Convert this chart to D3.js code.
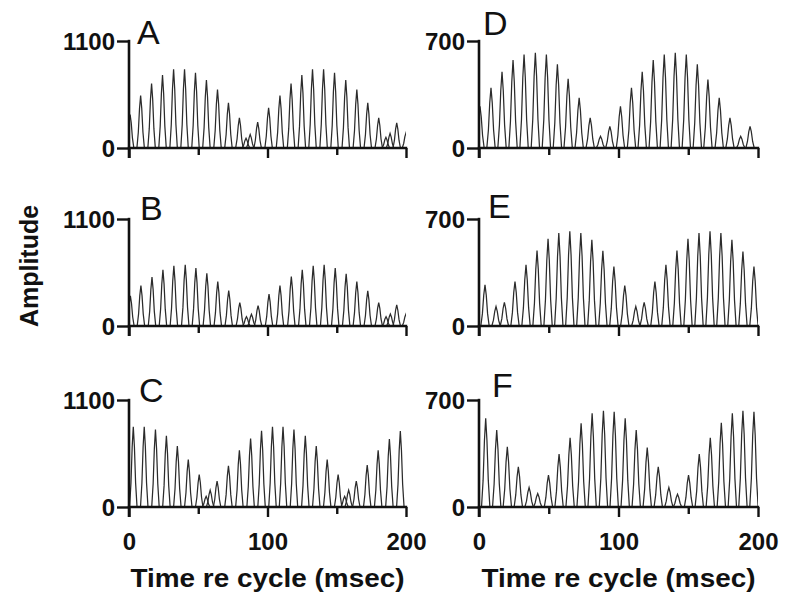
<!DOCTYPE html>
<html>
<head>
<meta charset="utf-8">
<script src="https://cdn.jsdelivr.net/npm/d3@7"></script>
<style>
  html, body { margin: 0; padding: 0; background: #fff; }
  svg { display: block; }
  text { font-family: "Liberation Sans", Arial, Helvetica, sans-serif; fill: #111; }
</style>
</head>
<body>
<svg id="chart" width="785" height="600"></svg>
<script>
// ---- Data ----
const panelLabels = ["A", "B", "C", "D", "E", "F"];
const yMaxLeft = 1100;
const yMaxRight = 700;
const xTickValues = [0, 50, 100, 150, 200];
const xTickLabels = ["0", "", "100", "", "200"];
const xTitle = "Time re cycle (msec)";
const yTitle = "Amplitude";

const timesA = [0.8, 8.4, 16.3, 24.2, 32.2, 40.1, 48, 55.9, 63.9, 71.8, 79.7, 84.5, 87.5, 92.9, 100.8, 109, 117, 124.8, 132.5, 140.5, 148.4, 156.5, 164.5, 172.4, 180.3, 185.5, 188.5, 193.3, 200];
const ampsA  = [344, 540, 663, 749, 808, 808, 773, 698, 602, 464, 309, 100, 140, 265, 412, 540, 663, 749, 808, 808, 773, 698, 602, 464, 309, 110, 150, 258, 155];

const timesB = [1, 8.6, 16.6, 24.5, 32.4, 40.6, 48.3, 56.2, 64.1, 72, 80, 84.8, 88.4, 93.2, 101.1, 109, 117.2, 125.1, 133, 140.9, 148.9, 156.8, 164.5, 172.4, 180.3, 185.6, 188.7, 193.3, 200];
const ampsB  = [309, 416, 502, 577, 619, 629, 595, 543, 457, 364, 241, 96, 120, 210, 327, 416, 509, 577, 619, 629, 595, 536, 457, 361, 241, 96, 124, 216, 124];

const timesC = [3.1, 11, 19.1, 27, 34.9, 42.8, 50.7, 55.7, 58.6, 63.6, 71.8, 79.7, 87.8, 95.7, 103.6, 111.2, 119.1, 127.3, 135.2, 143.1, 151, 155.7, 158.6, 164.1, 172, 179.9, 188, 195.9];
const ampsC  = [825, 825, 797, 732, 626, 488, 333, 110, 172, 265, 423, 584, 705, 784, 825, 825, 797, 732, 626, 488, 333, 110, 172, 265, 430, 584, 698, 780];

const timesD = [0.7, 8.6, 16.5, 24.4, 32.3, 40.4, 48.3, 56.2, 63.9, 71.8, 79.7, 87.1, 93.8, 101.4, 109.3, 117, 124.9, 132.8, 140.7, 148.6, 156.5, 164.1, 172.2, 179.9, 187.6, 194.3];
const ampsD  = [273, 394, 499, 575, 612, 623, 612, 547, 453, 328, 197, 77, 142, 273, 394, 499, 575, 612, 623, 612, 547, 448, 328, 197, 77, 142];

const timesE = [4.3, 12.2, 18.2, 25.8, 33.7, 41.6, 49.5, 57.2, 65.1, 73, 80.9, 88.8, 96.7, 104.5, 112.4, 118.4, 126.1, 134, 141.9, 149.8, 157.7, 165.6, 173.4, 181.3, 189.2, 197.1];
const ampsE  = [269, 127, 155, 291, 400, 494, 571, 608, 619, 608, 564, 492, 389, 265, 127, 155, 291, 400, 494, 571, 608, 619, 608, 564, 487, 389];

const timesF = [4.8, 12.7, 20.3, 28.2, 35.9, 42.1, 49.8, 57.4, 65.3, 73.2, 81.1, 89.2, 96.9, 104.8, 112.7, 120.6, 128.5, 136.1, 142.3, 150.2, 157.9, 165.8, 173.7, 181.6, 189.2, 197.1];
const ampsF  = [580, 503, 394, 263, 127, 88, 208, 346, 453, 547, 613, 630, 623, 580, 503, 389, 263, 127, 83, 208, 346, 453, 551, 613, 630, 623];

// ---- Layout ----
const colX = [{x0: 129, x1: 406}, {x0: 479, x1: 758}];
const rowY = [{y0: 41, y1: 148}, {y0: 219, y1: 326}, {y0: 400, y1: 507}];
const letterPos = [
  {dx: 8, dy: 3}, {dx: 11, dy: 1}, {dx: 10, dy: 2},
  {dx: 4, dy: -6}, {dx: 9, dy: -1}, {dx: 13, dy: -3}
];

const panels = [
  {label: panelLabels[0], col: 0, row: 0, times: timesA, amps: ampsA, yMax: yMaxLeft, hw: 2.7},
  {label: panelLabels[1], col: 0, row: 1, times: timesB, amps: ampsB, yMax: yMaxLeft, hw: 2.7},
  {label: panelLabels[2], col: 0, row: 2, times: timesC, amps: ampsC, yMax: yMaxLeft, hw: 2.7},
  {label: panelLabels[3], col: 1, row: 0, times: timesD, amps: ampsD, yMax: yMaxRight, hw: 3.0},
  {label: panelLabels[4], col: 1, row: 1, times: timesE, amps: ampsE, yMax: yMaxRight, hw: 3.0},
  {label: panelLabels[5], col: 1, row: 2, times: timesF, amps: ampsF, yMax: yMaxRight, hw: 3.0}
];

// peak shape template (offset fraction of half-width, fraction of amplitude)
const kernel = [[-1, 0], [-0.62, 0.3], [-0.3, 0.75], [0, 1], [0.3, 0.75], [0.62, 0.3], [1, 0]];

const svg = d3.select("#chart");
const AX = "#111";

panels.forEach((p, i) => {
  const cx = colX[p.col], ry = rowY[p.row];
  const x = d3.scaleLinear().domain([0, 200]).range([cx.x0, cx.x1]);
  const y = d3.scaleLinear().domain([0, p.yMax]).range([ry.y1, ry.y0]);
  const g = svg.append("g");

  const clipId = "clip" + i;
  svg.append("clipPath").attr("id", clipId)
    .append("rect").attr("x", cx.x0).attr("y", ry.y0 - 20)
    .attr("width", cx.x1 - cx.x0).attr("height", ry.y1 - ry.y0 + 20);

  const line = d3.line().x(d => x(d[0])).y(d => y(d[1]));
  const traces = g.append("g").attr("clip-path", `url(#${clipId})`);
  // baseline trace
  traces.append("path").attr("d", line([[0, 0], [200, 0]]))
    .attr("stroke", "#333").attr("stroke-width", 1.2).attr("fill", "none");
  p.times.forEach((t, k) => {
    const a = p.amps[k];
    const pts = kernel.map(([f, v]) => [t + f * p.hw, v * a]);
    traces.append("path").attr("d", line(pts))
      .attr("fill", "none").attr("stroke", "#2b2b2b")
      .attr("stroke-width", 1.25).attr("stroke-linejoin", "miter");
  });

  // y axis
  const yAxis = d3.axisLeft(y).tickValues([0, p.yMax]).tickSize(12).tickSizeOuter(0)
    .tickFormat(d3.format("d"));
  const ya = g.append("g").attr("transform", `translate(${cx.x0},0)`).call(yAxis);
  ya.select(".domain").remove();
  ya.selectAll("line").attr("stroke", AX).attr("stroke-width", 2.4);
  ya.selectAll("text").attr("font-size", 24).attr("font-weight", "bold")
    .attr("x", -14).attr("dy", "0.36em").style("fill", AX);
  g.append("line").attr("x1", cx.x0).attr("x2", cx.x0)
    .attr("y1", ry.y0 - 1.2).attr("y2", ry.y1 + 10)
    .attr("stroke", AX).attr("stroke-width", 2.6);

  // x axis
  const xAxis = d3.axisBottom(x).tickValues(xTickValues).tickSize(9).tickSizeOuter(0)
    .tickFormat((d, k) => p.row === 2 ? xTickLabels[k] : "");
  const xa = g.append("g").attr("transform", `translate(0,${ry.y1})`).call(xAxis);
  xa.select(".domain").remove();
  xa.selectAll("line").attr("stroke", AX).attr("stroke-width", 2.4)
    .attr("y2", (d) => (d === 50 || d === 150) ? 7 : 10);
  xa.selectAll("text").attr("font-size", 24).attr("font-weight", "bold")
    .attr("y", 43).attr("dy", 0).style("fill", AX);
  g.append("line").attr("x1", cx.x0 - 1.2).attr("x2", cx.x1 + 1.2)
    .attr("y1", ry.y1).attr("y2", ry.y1)
    .attr("stroke", AX).attr("stroke-width", 2.6);

  // panel letter
  g.append("text").attr("x", cx.x0 + letterPos[i].dx).attr("y", ry.y0 + letterPos[i].dy)
    .attr("font-size", 34).text(p.label);
});

// x titles
colX.forEach(c => {
  svg.append("text").attr("x", (c.x0 + c.x1) / 2).attr("y", 587)
    .attr("text-anchor", "middle").attr("font-size", 26.5).attr("font-weight", "bold")
    .attr("textLength", 274).attr("lengthAdjust", "spacingAndGlyphs")
    .text(xTitle);
});

// y title
svg.append("text").attr("transform", "translate(38,266) rotate(-90)")
  .attr("text-anchor", "middle").attr("font-size", 25).attr("font-weight", "bold")
  .text(yTitle);
</script>
</body>
</html>
